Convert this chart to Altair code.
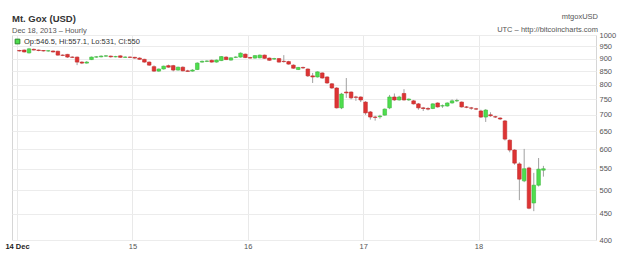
import altair as alt
import pandas as pd

# Hourly candles, 14 Dec 00:00 UTC onwards (index = hour)
opens = [933, 935, 923, 938, 935, 933, 931, 931, 930, 914,
         917, 906, 906, 886, 882, 896, 906, 907, 910, 910,
         907, 911, 905, 906, 905, 902, 897, 886, 868, 851,
         859, 872, 872, 855, 866, 852, 851, 857, 886, 889,
         893, 886, 892, 906, 894, 905, 906, 918, 904, 902,
         903, 914, 902, 898, 900, 889, 888, 874, 857, 865,
         859, 833, 829, 844, 829, 804, 789, 722, 775, 775,
         758, 758, 741, 709, 693, 694, 699, 722, 758, 748,
         770, 748, 745, 735, 722, 720, 720, 738, 728, 728,
         738, 745, 741, 725, 722, 719, 712, 693, 700, 694,
         690, 681, 625, 598, 562, 521, 552, 472, 511, 546.5]
highs = [936, 937, 944, 941, 937, 935, 934, 933, 932, 917,
         919, 909, 908, 889, 890, 908, 910, 913, 914, 912,
         911, 913, 909, 908, 907, 905, 899, 888, 873, 861,
         872, 876, 875, 868, 869, 856, 858, 885, 892, 893,
         896, 896, 910, 909, 905, 909, 925, 920, 907, 914,
         916, 916, 904, 903, 902, 914, 891, 877, 867, 868,
         861, 844, 850, 846, 831, 807, 792, 772, 825, 777,
         762, 760, 744, 712, 697, 700, 720, 765, 770, 762,
         785, 753, 748, 738, 725, 724, 737, 740, 733, 740,
         750, 752, 743, 728, 725, 722, 716, 718, 708, 697,
         692, 684, 627, 600, 566, 601, 555, 540, 577, 557.1]
lows = [929, 925, 921, 933, 930, 929, 928, 925, 912, 910,
        903, 902, 874, 878, 880, 894, 903, 905, 907, 904,
        905, 903, 903, 902, 899, 895, 884, 871, 848, 848,
        857, 864, 850, 853, 850, 848, 849, 855, 884, 886,
        884, 884, 890, 894, 892, 902, 904, 902, 900, 900,
        901, 899, 891, 895, 884, 884, 876, 860, 855, 860,
        829, 807, 827, 823, 804, 786, 720, 718, 755, 750,
        745, 741, 700, 685, 682, 688, 697, 718, 745, 746,
        746, 745, 733, 716, 712, 714, 718, 723, 722, 726,
        736, 741, 723, 721, 716, 715, 690, 678, 694, 690,
        684, 624, 592, 560, 478, 518, 459, 455, 508, 531]
closes = [931, 927, 940, 935, 933, 931, 932, 927, 914, 913,
          906, 905, 886, 882, 886, 906, 907, 910, 911, 907,
          908, 905, 906, 905, 902, 897, 886, 874, 851, 859,
          870, 866, 855, 866, 852, 850, 855, 882, 889, 890,
          886, 894, 908, 896, 903, 906, 922, 904, 902, 912,
          914, 901, 893, 900, 886, 888, 878, 862, 865, 863,
          833, 829, 848, 825, 807, 789, 722, 768, 772, 755,
          757, 748, 706, 693, 692, 696, 718, 758, 748, 758,
          748, 751, 735, 722, 720, 718, 735, 725, 729, 738,
          745, 746, 725, 724, 721, 718, 693, 715, 697, 693,
          687, 628, 598, 564, 525, 550, 461, 511, 549, 550]

y_ticks = [400, 450, 500, 550, 600, 650, 700, 750, 800, 850, 900, 950, 1000]
day_ticks = [0, 24, 48, 72, 96]

title_text = "Mt. Gox (USD)"
subtitle_text = "Dec 18, 2013 \u2013 Hourly"
symbol_text = "mtgoxUSD"
source_text = "UTC \u2013 http://bitcoincharts.com"
ohlc_text = "Op:546.5, Hi:557.1, Lo:531, Cl:550"

df = pd.DataFrame({
    "hour": [h + 0.5 for h in range(len(opens))],
    "open": opens, "high": highs, "low": lows, "close": closes,
})

RED = "#dd3434"
GREEN = "#4ede4e"
FONT = "Liberation Sans"

xscale = alt.Scale(domain=[0, 119.4], nice=False, zero=False)
yscale = alt.Scale(type="log", domain=[400, 1000], nice=False, zero=False)

xaxis = alt.Axis(
    values=day_ticks,
    labelExpr="datum.value == 0 ? '14 Dec' : toString(14 + datum.value / 24)",
    grid=True, gridColor="#e9e9e9", domain=False, ticks=False,
    labelPadding=2, labelFontSize=7.5, labelFont=FONT,
    labelColor={"condition": {"test": "datum.value == 0", "value": "#222"}, "value": "#555"},
    labelFontWeight={"condition": {"test": "datum.value == 0", "value": "bold"}, "value": "normal"},
    labelFlush=False, labelOverlap=False, title=None,
)
yaxis = alt.Axis(
    orient="right", values=y_ticks, format="d",
    grid=True, gridColor="#ececec", domain=False, ticks=False,
    labelPadding=3, labelFontSize=7.5, labelFont=FONT, labelColor="#555",
    labelOverlap=False, title=None,
)

base = alt.Chart(df)
wicks = base.mark_rule(color="#a0a0a0", strokeWidth=1).encode(
    x=alt.X("hour:Q", scale=xscale, axis=xaxis),
    y=alt.Y("low:Q", scale=yscale, axis=yaxis),
    y2="high:Q",
)
cond = alt.condition("datum.close >= datum.open", alt.value(GREEN), alt.value(RED))
cond_s = alt.condition("datum.close >= datum.open", alt.value("#3cb83c"), alt.value("#c42a2a"))
bodies = base.mark_bar(size=3.6, strokeWidth=0.6).encode(
    x="hour:Q",
    y="open:Q",
    y2="close:Q",
    color=cond,
    stroke=cond_s,
)

def label(text, x, y, size=7.5, weight="normal", color="#444", align="left"):
    return alt.Chart(pd.DataFrame({"t": [text]})).mark_text(
        align=align, baseline="middle", fontSize=size, fontWeight=weight,
        font=FONT, color=color,
    ).encode(x=alt.value(x), y=alt.value(y), text="t:N")

t1 = label(title_text, 0, -16.5, size=9.5, weight="bold", color="#333")
t2 = label(subtitle_text, 0, -4.5, size=7.5, color="#555")
t3 = label(symbol_text, 586, -18.3, size=7.5, color="#555", align="right")
t4 = label(source_text, 586, -5, size=7.5, color="#555", align="right")
t5 = label(ohlc_text, 12, 6.7, size=7.5, color="#333")
sq = alt.Chart(pd.DataFrame({"t": [ohlc_text]})).mark_square(
    size=22, color=GREEN, stroke="#2c8a2c", strokeWidth=1, opacity=1, filled=True
).encode(x=alt.value(5.5), y=alt.value(6.5))

chart = alt.layer(wicks, bodies, t1, t2, t3, t4, t5, sq).properties(
    width=584, height=205,
    autosize=alt.AutoSizeParams(type="none"),
    padding={"left": 12, "top": 35, "right": 35, "bottom": 17},
    background="white",
).configure_view(stroke="#d6d6d6", strokeWidth=1)

chart.save("out.html", embed_options={"renderer": "svg", "actions": False})
